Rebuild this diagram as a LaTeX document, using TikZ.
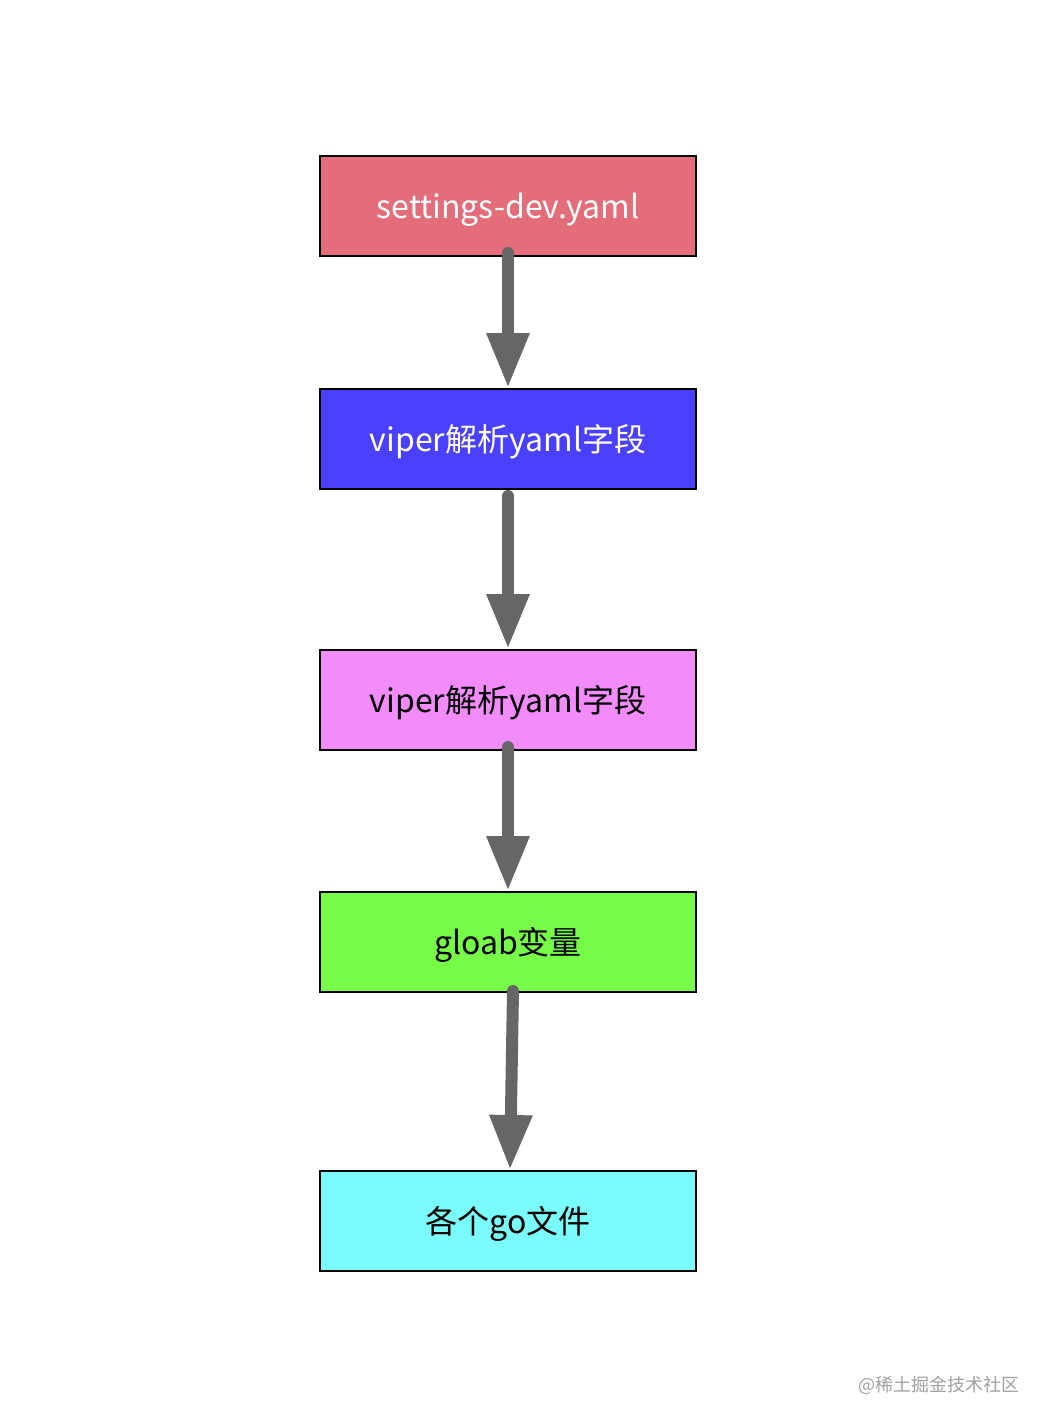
\documentclass[tikz,border=0pt]{standalone}
\usepackage{fontspec}
\setmainfont{Noto Sans CJK SC}
\usetikzlibrary{arrows.meta}
\definecolor{cred}{HTML}{E36D79}
\definecolor{cblue}{HTML}{4A40FF}
\definecolor{cpink}{HTML}{F28BFC}
\definecolor{cgreen}{HTML}{77FC47}
\definecolor{ccyan}{HTML}{7AFCFC}
\definecolor{carrow}{HTML}{666666}
\definecolor{cwm}{HTML}{A0A0A0}
\begin{document}
\begin{tikzpicture}[x=1pt,y=-1pt,
  box/.style={draw=black,line width=2pt,minimum width=376pt,minimum height=100pt,inner sep=0pt,text height=24pt,text depth=0pt,font=\fontsize{32}{38}\selectfont},
  conn/.style={draw=carrow,line width=12pt,line cap=round,-{Triangle[width=40pt,length=55pt]}}]
\useasboundingbox (0,0) rectangle (1052,1428);
\fill[white] (0,0) rectangle (1052,1428);
\node[box,fill=cred,text=white] (a) at (508,206) {settings-dev.yaml};
\node[box,fill=cblue,text=white] (b) at (508,439) {viper解析yaml字段};
\node[box,fill=cpink,text=black] (c) at (508,700) {viper解析yaml字段};
\node[box,fill=cgreen,text=black] (d) at (508,942) {gloab变量};
\node[box,fill=ccyan,text=black] (e) at (508,1221) {各个go文件};
\draw[conn] ([yshift=4pt]a.south) -- (b.north);
\draw[conn] ([yshift=-6pt]b.south) -- (c.north);
\draw[conn] ([yshift=4pt]c.south) -- (d.north);
\draw[conn] ([xshift=5pt,yshift=2pt]d.south) -- ([xshift=2pt]e.north);
\node[text=cwm,font=\fontsize{18}{20}\selectfont] (wm) at (939,1385) {@稀土掘金技术社区};
\end{tikzpicture}
\end{document}
